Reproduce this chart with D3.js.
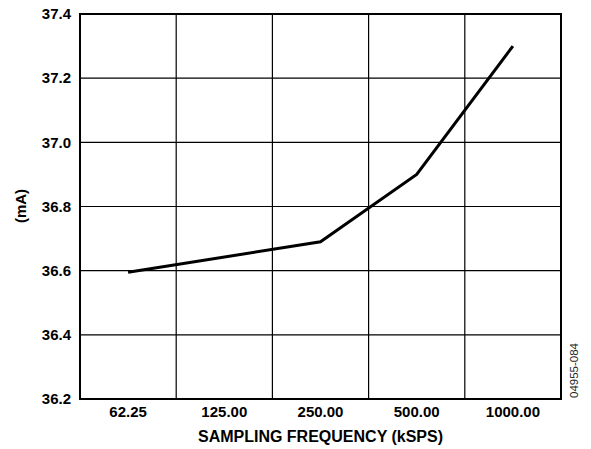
<!DOCTYPE html>
<html>
<head>
<meta charset="utf-8">
<script src="https://cdn.jsdelivr.net/npm/d3@7"></script>
<style>
  body { margin: 0; background: #fff; }
  text { font-family: "Liberation Sans", Arial, sans-serif; }
  .tick-label { font-size: 15px; font-weight: bold; }
  .label { font-size: 16px; font-weight: bold; }
</style>
</head>
<body>
<div class="svg-container"></div>
<script>
var width = 591;
var height = 449;

var padding = { "top": 14, "right": 30, "bottom": 50, "left": 80 };

// categories along the bottom
var frequencies = ["62.25", "125.00", "250.00", "500.00", "1000.00"];

// measured points (kSPS category, mA)
var sampleFreq = ["62.25", "250.00", "500.00", "1000.00"];
var currentMA = [36.595, 36.69, 36.90, 37.30];

var yTicks = [36.2, 36.4, 36.6, 36.8, 37.0, 37.2, 37.4];

var plotW = width - padding.left - padding.right;
var plotH = height - padding.top - padding.bottom;

var svg = d3.select(".svg-container")
              .append("svg")
              .attr("width", width)
              .attr("height", height)
              .append("g")
              .attr("transform", "translate(" + padding.left + "," + padding.top + ")");

var scaleX = d3.scaleBand()
            .domain(frequencies)
            .range([0, plotW]);

var scaleY = d3.scaleLinear()
            .domain([36.2, 37.4])
            .range([plotH, 0]);

// grid lines
svg.selectAll(".vgrid")
    .data(frequencies.slice(1))
    .enter()
    .append("line")
    .attr("x1", function(d) { return scaleX(d); })
    .attr("x2", function(d) { return scaleX(d); })
    .attr("y1", 0)
    .attr("y2", plotH)
    .attr("stroke", "#000")
    .attr("stroke-width", 1.2);

svg.selectAll(".hgrid")
    .data(yTicks.slice(1, -1))
    .enter()
    .append("line")
    .attr("x1", 0)
    .attr("x2", plotW)
    .attr("y1", function(d) { return scaleY(d); })
    .attr("y2", function(d) { return scaleY(d); })
    .attr("stroke", "#000")
    .attr("stroke-width", 1.2);

// frame
svg.append("rect")
    .attr("x", 0)
    .attr("y", 0)
    .attr("width", plotW)
    .attr("height", plotH)
    .attr("fill", "none")
    .attr("stroke", "#000")
    .attr("stroke-width", 2);

// axes: labels only
var yAxis = svg.append("g")
    .call(d3.axisLeft(scaleY).tickValues(yTicks).tickFormat(d3.format(".1f")).tickSize(0).tickPadding(9));
yAxis.select(".domain").remove();
yAxis.selectAll("text").attr("class", "tick-label").attr("fill", "#000");

var xAxis = svg.append("g")
    .attr("transform", "translate(0," + plotH + ")")
    .call(d3.axisBottom(scaleX).tickSize(0).tickPadding(7));
xAxis.select(".domain").remove();
xAxis.selectAll("text").attr("class", "tick-label").attr("fill", "#000");

// data line
var points = sampleFreq.map(function(f, i) { return { f: f, v: currentMA[i] }; });

var valueline = d3.line()
    .x(function(d) { return scaleX(d.f) + scaleX.bandwidth() / 2; })
    .y(function(d) { return scaleY(d.v); });

svg.append("path")
    .datum(points)
    .attr("fill", "none")
    .attr("stroke", "#000")
    .attr("stroke-width", 3)
    .attr("d", valueline);

// axis titles
svg.append("text")
    .attr("x", plotW / 2)
    .attr("y", plotH + 42.5)
    .attr("class", "label")
    .attr("text-anchor", "middle")
    .text("SAMPLING FREQUENCY (kSPS)");

svg.append("text")
    .attr("transform", "rotate(270)")
    .attr("x", -(206 - padding.top))
    .attr("y", -54)
    .attr("class", "label")
    .style("font-size", "15px")
    .attr("text-anchor", "middle")
    .text("(mA)");

svg.append("text")
    .attr("transform", "translate(" + (plotW + 17) + "," + (plotH - 28.5) + ") rotate(270)")
    .attr("text-anchor", "middle")
    .attr("fill", "#222")
    .style("font-size", "11.5px")
    .text("04955-084");
</script>
</body>
</html>
